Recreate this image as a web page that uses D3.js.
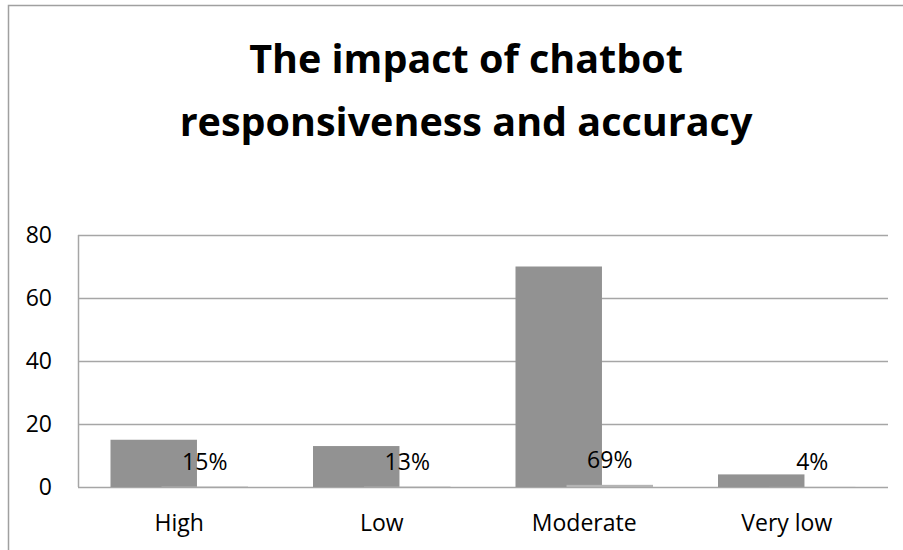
<!DOCTYPE html>
<html>
<head>
<meta charset="utf-8">
<script src="https://cdn.jsdelivr.net/npm/d3@7"></script>
<style>
  body { margin: 0; background: #fff; }
  svg { display: block; font-family: "Open Sans", sans-serif; }
</style>
</head>
<body>
<div id="chart"></div>
<script>
// chart data
const categories = ["High", "Low", "Moderate", "Very low"];
const counts = [15, 13, 70, 4];          // first series (tall grey bars)
const shares = [0.15, 0.13, 0.69, 0.04]; // second series (tiny bars, shown as % labels)
const yTicks = [0, 20, 40, 60, 80];
const titleLines = ["The impact of chatbot", "responsiveness and accuracy"];

const W = 903, H = 550;
const plot = { left: 78, right: 888, top: 235, bottom: 487 };

const svg = d3.select("#chart").append("svg")
    .attr("width", W)
    .attr("height", H);

// outer chart frame (right and bottom edges run past the picture)
svg.append("rect")
    .attr("x", 8.5).attr("y", 5.5)
    .attr("width", W + 20).attr("height", H + 20)
    .attr("fill", "#fff")
    .attr("stroke", "#a0a0a0")
    .attr("stroke-width", 1.5);

// title
svg.append("g").selectAll("text")
    .data(titleLines)
    .join("text")
    .attr("x", 466)
    .attr("y", (d, i) => 73 + i * 63)
    .attr("text-anchor", "middle")
    .style("font-size", "39.5px")
    .style("font-weight", "bold")
    .attr("fill", "#000")
    .text(d => d);

// scales
const y = d3.scaleLinear().domain([0, 80]).range([plot.bottom, plot.top]);
const x = d3.scaleBand().domain(categories).range([plot.left, plot.right]).padding(0);

const barW = x.bandwidth() * 0.427;
const shift = x.bandwidth() * 0.252;
const groupW = barW + shift;
const barX = (c, s) => x(c) + (x.bandwidth() - groupW) / 2 + s * shift;

// gridlines
svg.append("g")
    .selectAll("line")
    .data(yTicks)
    .join("line")
    .attr("x1", plot.left).attr("x2", plot.right)
    .attr("y1", d => Math.round(y(d)) + 0.5)
    .attr("y2", d => Math.round(y(d)) + 0.5)
    .attr("stroke", "#a6a6a6")
    .attr("stroke-width", 1.5);

// y axis line
svg.append("line")
    .attr("x1", plot.left + 0.5).attr("x2", plot.left + 0.5)
    .attr("y1", plot.top).attr("y2", plot.bottom)
    .attr("stroke", "#a6a6a6")
    .attr("stroke-width", 1.5);

// y tick labels
svg.append("g")
    .selectAll("text")
    .data(yTicks)
    .join("text")
    .attr("x", 52)
    .attr("y", d => y(d))
    .attr("dy", "0.35em")
    .attr("text-anchor", "end")
    .style("font-size", "23px")
    .attr("fill", "#000")
    .text(d => d);

// series 1 bars
svg.append("g")
    .selectAll("rect")
    .data(categories)
    .join("rect")
    .attr("x", d => barX(d, 0))
    .attr("y", (d, i) => y(counts[i]))
    .attr("width", barW)
    .attr("height", (d, i) => y(0) - y(counts[i]))
    .attr("fill", "#929292");

// series 2 bars (fractions, so nearly flat)
svg.append("g")
    .selectAll("rect")
    .data(categories)
    .join("rect")
    .attr("x", d => barX(d, 1))
    .attr("y", (d, i) => y(shares[i]))
    .attr("width", barW)
    .attr("height", (d, i) => y(0) - y(shares[i]))
    .attr("fill", "#b4b4b4");

// data labels for series 2
const pct = d3.format(".0%");
svg.append("g")
    .selectAll("text")
    .data(categories)
    .join("text")
    .attr("x", d => barX(d, 1) + barW / 2)
    .attr("y", (d, i) => y(shares[i]) - 17)
    .attr("text-anchor", "middle")
    .style("font-size", "23px")
    .attr("fill", "#000")
    .text((d, i) => pct(shares[i]));

// category labels
svg.append("g")
    .selectAll("text")
    .data(categories)
    .join("text")
    .attr("x", d => x(d) + x.bandwidth() / 2)
    .attr("y", 531)
    .attr("text-anchor", "middle")
    .style("font-size", "23px")
    .attr("fill", "#000")
    .text(d => d);
</script>
</body>
</html>
